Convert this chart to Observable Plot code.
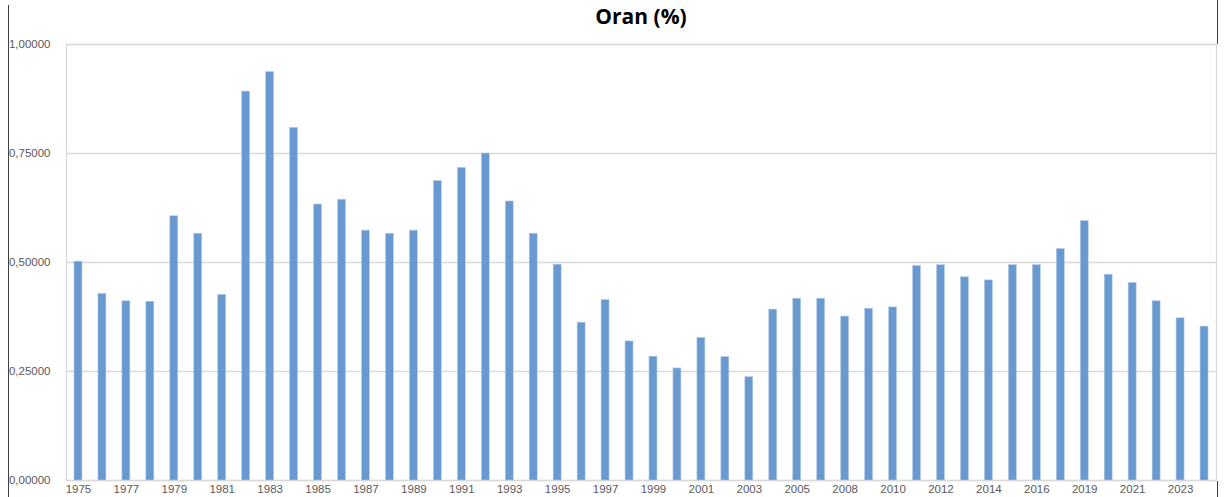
<!DOCTYPE html>
<html>
<head>
<meta charset="utf-8">
<script src="https://cdn.jsdelivr.net/npm/d3@7"></script>
<script src="https://cdn.jsdelivr.net/npm/@observablehq/plot@0.6"></script>
<style>
  html, body { margin: 0; padding: 0; background: #fff; }
  #wrap { position: relative; width: 1226px; height: 497px; overflow: hidden; font-family: "Liberation Sans", Arial, sans-serif; }
  #title { position: absolute; left: 66px; width: 1150px; top: 2px; text-align: center; font-family: "Open Sans", "Liberation Sans", sans-serif; font-weight: 700; font-size: 21px; color: #000; }
  #chart { position: absolute; left: 0; top: 30px; }
  .dark { position: absolute; background: #404040; width: 1.5px; }
</style>
</head>
<body>
<div id="wrap">
  <div id="title">Oran (%)</div>
  <div id="chart"></div>
  <div class="dark" style="left:7.5px; top:5px; height:492px;"></div>
  <div class="dark" style="left:1216.5px; top:0px; height:44px;"></div>
  <div class="dark" style="left:1216.5px; top:481px; height:16px;"></div>
</div>
<script>
const years = ["1975","1976","1977","1978","1979","1980","1981","1982","1983","1984",
  "1985","1986","1987","1988","1989","1990","1991","1992","1993","1994",
  "1995","1996","1997","1998","1999","2000","2001","2002","2003","2004",
  "2005","2006","2008","2009","2010","2011","2012","2013","2014","2015",
  "2016","2017","2019","2020","2021","2022","2023","2024"];
const values = [0.502,0.428,0.411,0.410,0.606,0.566,0.426,0.892,0.937,0.809,
  0.633,0.644,0.573,0.566,0.573,0.687,0.717,0.750,0.640,0.566,
  0.495,0.362,0.414,0.319,0.284,0.257,0.327,0.283,0.237,0.392,
  0.417,0.417,0.376,0.394,0.397,0.492,0.494,0.466,0.459,0.494,
  0.494,0.531,0.595,0.472,0.453,0.411,0.372,0.353];
const yTicks = [0, 0.25, 0.5, 0.75, 1];

const data = years.map((y, i) => ({year: y, value: values[i]}));
const shownYears = years.filter((_, i) => i % 2 === 0);
const fmt = v => d3.format(".5f")(v).replace(".", ",");

const chart = Plot.plot({
  width: 1226,
  height: 467,
  marginTop: 14,
  marginBottom: 17,
  marginLeft: 66,
  marginRight: 10,
  style: {fontFamily: "Liberation Sans, Arial, sans-serif", fontSize: "11.5px", color: "#595959", background: "#fff"},
  x: {domain: years, paddingInner: 0.667, paddingOuter: 0.3335, label: null},
  y: {domain: [0, 1], label: null},
  marks: [
    Plot.ruleY(yTicks, {stroke: "#d9d9d9", strokeWidth: 1.3}),
    Plot.frame({stroke: "#d9d9d9", strokeWidth: 1.3}),
    Plot.barY(data, {x: "year", y: "value", fill: "#6899cf", stroke: "#b7cde9", strokeWidth: 0.6}),
    Plot.axisX({ticks: shownYears, tickSize: 0, tickPadding: 4, fill: "#595959", label: null}),
    Plot.axisY({ticks: yTicks, tickSize: 0, tickPadding: 16, tickFormat: fmt, fill: "#595959", label: null})
  ]
});
document.getElementById("chart").appendChild(chart);
</script>
</body>
</html>
